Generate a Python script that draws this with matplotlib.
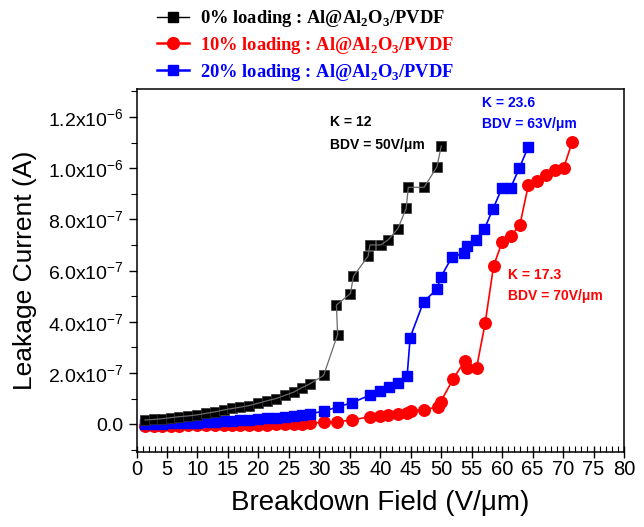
import numpy as np
import matplotlib
matplotlib.use('Agg')
import matplotlib.pyplot as plt
from matplotlib.lines import Line2D
from matplotlib.ticker import MultipleLocator, FixedLocator, FixedFormatter

plt.rcParams['font.family'] = ['Liberation Sans', 'DejaVu Sans']
plt.rcParams['mathtext.fontset'] = 'custom'
plt.rcParams['mathtext.rm'] = 'Liberation Sans'
plt.rcParams['mathtext.sf'] = 'Liberation Serif:bold'
plt.rcParams['mathtext.default'] = 'rm'

# 0% loading (black squares)
x0 = [1.4, 2.8, 4.2, 5.6, 7.0, 8.5, 9.9, 11.4, 12.9, 14.3, 15.7, 17.0, 18.4, 19.9, 21.4,
      22.9, 24.3, 25.8, 27.1, 28.5, 30.7, 33.0, 32.8, 35.1, 35.6, 38.0, 38.3, 40.1, 41.3,
      42.9, 44.25, 44.6, 47.2, 49.3, 50.0]
y0 = [0.16, 0.18, 0.21, 0.25, 0.29, 0.32, 0.36, 0.42, 0.48, 0.55, 0.61, 0.66, 0.72, 0.81, 0.91,
      1.0, 1.12, 1.25, 1.42, 1.58, 1.9, 3.5, 4.65, 5.1, 5.78, 6.56, 7.0, 7.0, 7.2,
      7.64, 8.43, 9.25, 9.25, 10.05, 10.86]

# 10% loading (red circles)
x10 = [1.4, 2.8, 4.2, 5.6, 7.0, 8.5, 9.9, 11.4, 12.9, 14.3, 15.7, 17.0, 18.4, 19.9, 21.4,
       22.9, 24.3, 25.8, 27.1, 28.5, 30.7, 32.9, 35.4, 38.3, 39.9, 41.3, 42.9, 44.4, 45.0,
       47.1, 49.4, 49.9, 52.0, 53.9, 54.2, 55.8, 57.2, 58.6, 60.0, 61.4, 62.9, 64.3, 65.7,
       67.2, 68.7, 70.1, 71.5]
y10 = [-0.06, -0.06, -0.06, -0.06, -0.06, -0.05, -0.05, -0.05, -0.05, -0.04, -0.04, -0.03, -0.03,
       -0.02, -0.02, -0.01, 0.0, 0.01, 0.02, 0.04, 0.07, 0.09, 0.16, 0.29, 0.32, 0.35, 0.40, 0.43,
       0.52, 0.57, 0.66, 0.87, 1.78, 2.48, 2.18, 2.2, 3.93, 6.19, 7.11, 7.34, 7.77, 9.34, 9.5,
       9.73, 9.92, 10.01, 11.03]

# 20% loading (blue squares)
x20 = [1.4, 2.8, 4.2, 5.6, 7.0, 8.5, 9.9, 11.4, 12.9, 14.3, 15.7, 17.0, 18.4, 19.9, 21.4,
       22.9, 24.3, 25.8, 27.1, 28.5, 30.7, 33.0, 35.3, 38.3, 39.9, 41.5, 42.9, 44.4, 44.9,
       47.1, 49.3, 49.95, 51.8, 53.8, 54.2, 55.7, 57.1, 58.5, 60.0, 61.4, 62.8, 64.3]
y20 = [0.0, 0.01, 0.02, 0.03, 0.04, 0.05, 0.06, 0.07, 0.09, 0.11, 0.13, 0.15, 0.17, 0.19, 0.22,
       0.25, 0.28, 0.32, 0.36, 0.41, 0.5, 0.67, 0.83, 1.13, 1.29, 1.46, 1.59, 1.86, 3.38,
       4.78, 5.27, 5.75, 6.54, 6.67, 6.95, 7.21, 7.63, 8.41, 9.24, 9.24, 9.99, 10.84]

labels = ['0% loading : Al@Al$_\\mathsf{2}$O$_\\mathsf{3}$/PVDF',
          '10% loading : Al@Al$_\\mathsf{2}$O$_\\mathsf{3}$/PVDF',
          '20% loading : Al@Al$_\\mathsf{2}$O$_\\mathsf{3}$/PVDF']
yticks = [0, 2e-7, 4e-7, 6e-7, 8e-7, 1.0e-6, 1.2e-6]
ytick_labels = ['0.0', '2.0x10$^{-7}$', '4.0x10$^{-7}$', '6.0x10$^{-7}$', '8.0x10$^{-7}$',
                '1.0x10$^{-6}$', '1.2x10$^{-6}$']

e = 1e-7
fig = plt.figure(figsize=(6.44, 5.27), dpi=100)
ax = fig.add_axes([0.212, 0.1423, 0.757, 0.6888])

# black: markers under a thin line
ax.plot(x0, np.array(y0) * e, ls='none', marker='s', ms=7.3, mfc='black', mec='#333333',
        mew=0.5, zorder=3)
ax.plot(x0, np.array(y0) * e, color='#6a6a6a', lw=0.9, zorder=4)
ax.plot(x10, np.array(y10) * e, color='red', lw=1.2, marker='o', ms=8.3, zorder=2)
ax.plot(x20, np.array(y20) * e, color='blue', lw=1.2, marker='s', ms=7.3, zorder=2.5)

ax.set_xlim(0, 80)
ax.set_ylim(-1.09e-7, 1.309e-6)
ax.xaxis.set_major_locator(MultipleLocator(5))
ax.xaxis.set_minor_locator(MultipleLocator(1))
ax.yaxis.set_major_locator(FixedLocator(yticks))
ax.yaxis.set_major_formatter(FixedFormatter(ytick_labels))
ax.yaxis.set_minor_locator(MultipleLocator(1e-7))
ax.tick_params(axis='x', which='major', direction='inout', length=8, width=1.0, labelsize=14.5, pad=2)
ax.tick_params(axis='x', which='minor', direction='in', length=4, width=0.8)
ax.tick_params(axis='y', which='major', direction='out', length=6, width=1.0, labelsize=14)
ax.tick_params(axis='y', which='minor', direction='out', length=4, width=0.8)
for s in ax.spines.values():
    s.set_linewidth(1.1)

ax.set_xlabel('Breakdown Field (V/\u03bcm)', fontsize=20, labelpad=8)
ax.set_ylabel('Leakage Current (A)', fontsize=19, labelpad=8)

ax.text(31.8, 11.8e-7, 'K = 12', color='black', fontsize=10, fontweight='bold', va='center')
ax.text(31.8, 10.9e-7, 'BDV = 50V/\u03bcm', color='black', fontsize=10, fontweight='bold', va='center')
ax.text(56.7, 12.54e-7, 'K = 23.6', color='blue', fontsize=10, fontweight='bold', va='center')
ax.text(56.7, 11.72e-7, 'BDV = 63V/\u03bcm', color='blue', fontsize=10, fontweight='bold', va='center')
ax.text(61.0, 5.82e-7, 'K = 17.3', color='red', fontsize=10, fontweight='bold', va='center')
ax.text(61.0, 5.0e-7, 'BDV = 70V/\u03bcm', color='red', fontsize=10, fontweight='bold', va='center')

handles = [Line2D([], [], color='black', lw=1.0, marker='s', ms=7, mfc='black', mec='black'),
           Line2D([], [], color='red', lw=1.8, marker='o', ms=8.5),
           Line2D([], [], color='blue', lw=1.8, marker='s', ms=7.5)]
leg = fig.legend(handles, labels, loc='upper left', bbox_to_anchor=(157 / 644, 1 - 8 / 527),
                 frameon=False, handlelength=1.75, handletextpad=0.6, labelspacing=0.32,
                 borderpad=0, borderaxespad=0,
                 prop={'family': 'Liberation Serif', 'weight': 'bold', 'size': 13.3})
for t, c in zip(leg.get_texts(), ['black', 'red', 'blue']):
    t.set_color(c)

fig.savefig('out.png', dpi=100)
